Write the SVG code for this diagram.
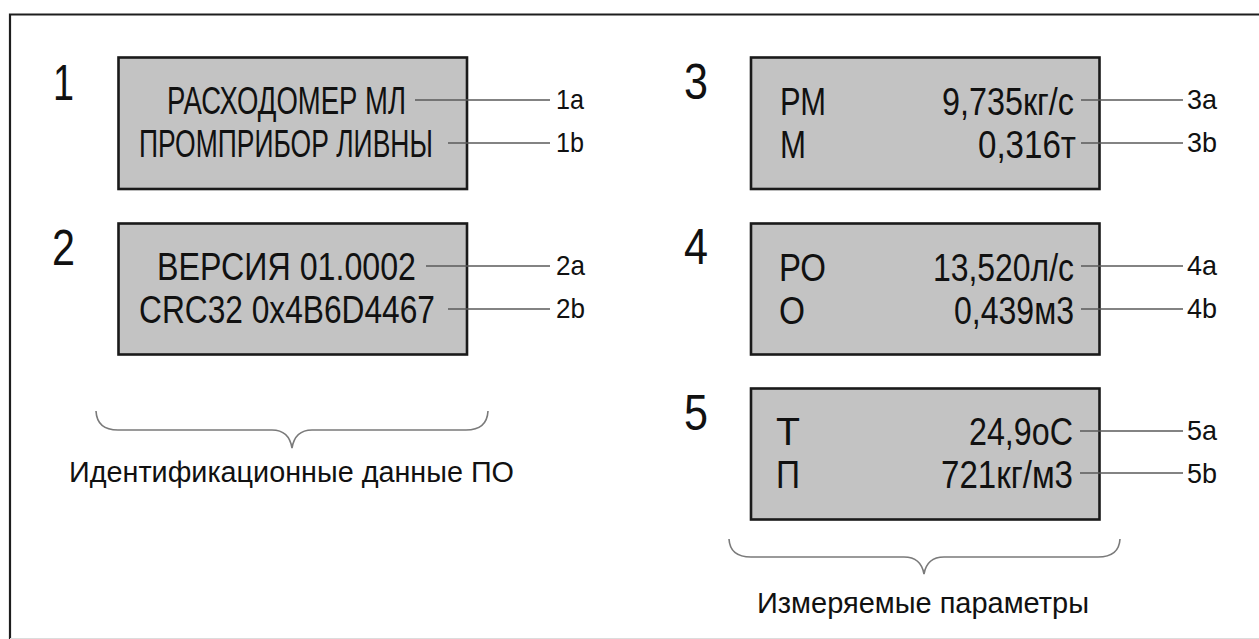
<svg xmlns="http://www.w3.org/2000/svg" width="1259" height="639" viewBox="0 0 1259 639">
<defs>
<style>
.frame{fill:none;stroke:#1e1e1e;stroke-width:2.2}
.box{fill:#c3c3c3;stroke:#1a1a1a;stroke-width:2.6}
.t{font-family:"Liberation Sans",Arial,sans-serif;font-size:38px;fill:#111}
.num{font-family:"Liberation Sans",Arial,sans-serif;font-size:50px;fill:#111}
.lbl{font-family:"Liberation Sans",Arial,sans-serif;font-size:28px;fill:#111}
.cap{font-family:"Liberation Sans",Arial,sans-serif;font-size:30px;fill:#111}
.ln{stroke:#5a5a5a;stroke-width:1.6;fill:none}
.brace{stroke:#7a7a7a;stroke-width:1.6;fill:none}
</style>
</defs>
<rect width="1259" height="639" fill="#ffffff"/>
<path class="frame" d="M10,640 V14.5 H1260"/>
<line x1="10" y1="638.5" x2="1259" y2="638.5" stroke="#dcdcdc" stroke-width="1"/>

<g id="node1">
<text class="num" x="53" y="100" textLength="21" lengthAdjust="spacingAndGlyphs">1</text>
<rect class="box" x="118.5" y="57.5" width="348.5" height="131.5"/>
<text class="t" x="167" y="114" textLength="239" lengthAdjust="spacingAndGlyphs">РАСХОДОМЕР МЛ</text>
<text class="t" transform="translate(139,157) scale(0.697,1)" x="0" y="0">ПРОМПРИБОР ЛИВНЫ</text>
<text class="lbl" x="556" y="109" textLength="28" lengthAdjust="spacingAndGlyphs">1a</text>
<text class="lbl" x="556" y="152" textLength="28" lengthAdjust="spacingAndGlyphs">1b</text>
</g>

<g id="node2">
<text class="num" x="52" y="265" textLength="23" lengthAdjust="spacingAndGlyphs">2</text>
<rect class="box" x="118.5" y="223.5" width="348.5" height="131"/>
<text class="t" x="157" y="280" textLength="259" lengthAdjust="spacingAndGlyphs">ВЕРСИЯ 01.0002</text>
<text class="t" x="139" y="323" textLength="296" lengthAdjust="spacingAndGlyphs">CRC32 0x4B6D4467</text>
<text class="lbl" x="556" y="275" textLength="29" lengthAdjust="spacingAndGlyphs">2a</text>
<text class="lbl" x="556" y="318" textLength="29" lengthAdjust="spacingAndGlyphs">2b</text>
</g>

<g id="node3">
<text class="num" x="684" y="99" textLength="24" lengthAdjust="spacingAndGlyphs">3</text>
<rect class="box" x="751" y="57.5" width="348.5" height="131.5"/>
<text class="t" x="780" y="115" textLength="46" lengthAdjust="spacingAndGlyphs">РМ</text>
<text class="t" x="780" y="158" textLength="26" lengthAdjust="spacingAndGlyphs">М</text>
<text class="t" x="1074" y="115" text-anchor="end" textLength="132" lengthAdjust="spacingAndGlyphs">9,735кг/с</text>
<text class="t" x="1076" y="158" text-anchor="end" textLength="98" lengthAdjust="spacingAndGlyphs">0,316т</text>
<text class="lbl" x="1187" y="109" textLength="30" lengthAdjust="spacingAndGlyphs">3a</text>
<text class="lbl" x="1187" y="152" textLength="30" lengthAdjust="spacingAndGlyphs">3b</text>
</g>

<g id="node4">
<text class="num" x="684" y="264" textLength="24" lengthAdjust="spacingAndGlyphs">4</text>
<rect class="box" x="751" y="223.5" width="348.5" height="131"/>
<text class="t" x="779" y="281" textLength="47" lengthAdjust="spacingAndGlyphs">РО</text>
<text class="t" x="779" y="324" textLength="26" lengthAdjust="spacingAndGlyphs">О</text>
<text class="t" x="1074" y="281" text-anchor="end" textLength="141" lengthAdjust="spacingAndGlyphs">13,520л/с</text>
<text class="t" x="1074" y="324" text-anchor="end" textLength="120" lengthAdjust="spacingAndGlyphs">0,439м3</text>
<text class="lbl" x="1187" y="275" textLength="30" lengthAdjust="spacingAndGlyphs">4a</text>
<text class="lbl" x="1187" y="318" textLength="30" lengthAdjust="spacingAndGlyphs">4b</text>
</g>

<g id="node5">
<text class="num" x="684" y="430" textLength="24" lengthAdjust="spacingAndGlyphs">5</text>
<rect class="box" x="751" y="388.5" width="348.5" height="131"/>
<text class="t" x="776" y="445" textLength="24" lengthAdjust="spacingAndGlyphs">Т</text>
<text class="t" x="776" y="488" textLength="24" lengthAdjust="spacingAndGlyphs">П</text>
<text class="t" x="1073" y="445" text-anchor="end" textLength="104" lengthAdjust="spacingAndGlyphs">24,9оС</text>
<text class="t" x="1073" y="488" text-anchor="end" textLength="132" lengthAdjust="spacingAndGlyphs">721кг/м3</text>
<text class="lbl" x="1187" y="440" textLength="30" lengthAdjust="spacingAndGlyphs">5a</text>
<text class="lbl" x="1187" y="483" textLength="30" lengthAdjust="spacingAndGlyphs">5b</text>
</g>

<g id="group-left">
<path class="brace" d="M96,411 Q97,430 118,430 H272 Q289,430 292,448 Q295,430 312,430 H466 Q487,430 488,411"/>
<text class="cap" x="69" y="482" textLength="445" lengthAdjust="spacingAndGlyphs">Идентификационные данные ПО</text>
</g>

<g id="group-right">
<path class="brace" d="M729,539 Q730,557 751,557 H904 Q921,557 924,574 Q927,557 944,557 H1098 Q1119,557 1120,539"/>
<text class="cap" x="757" y="613" textLength="332" lengthAdjust="spacingAndGlyphs">Измеряемые параметры</text>
</g>

<g id="connectors">
<line class="ln" x1="415" y1="100" x2="550" y2="100"/>
<line class="ln" x1="448" y1="143" x2="550" y2="143"/>
<line class="ln" x1="426" y1="266" x2="550" y2="266"/>
<line class="ln" x1="448" y1="309" x2="550" y2="309"/>
<line class="ln" x1="1081" y1="100" x2="1183" y2="100"/>
<line class="ln" x1="1081" y1="143" x2="1183" y2="143"/>
<line class="ln" x1="1081" y1="266" x2="1183" y2="266"/>
<line class="ln" x1="1081" y1="309" x2="1183" y2="309"/>
<line class="ln" x1="1080" y1="431" x2="1183" y2="431"/>
<line class="ln" x1="1080" y1="473" x2="1183" y2="473"/>
</g>
</svg>
